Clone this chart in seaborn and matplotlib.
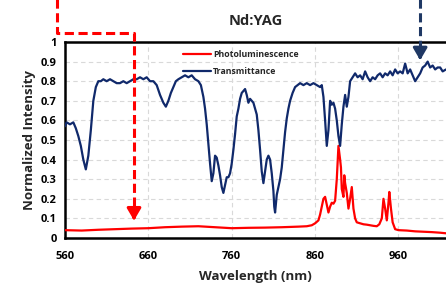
import numpy as np
import pandas as pd
import matplotlib
matplotlib.use("Agg")
import matplotlib.pyplot as plt
from matplotlib.ticker import MultipleLocator
import seaborn as sns

sns.set_theme(style="white")
plt.rcParams['font.family'] = ['Open Sans', 'DejaVu Sans']

# Transmittance
trans_wl = [560, 562, 566, 570, 573, 576, 579, 582, 585, 588, 591, 594, 597, 600, 603,
            606, 610, 614, 618, 622, 626, 630, 634, 638, 642, 646, 650, 654, 658, 662,
            666, 670, 674, 678, 681, 684, 687, 690, 693, 696, 700, 704, 708, 712, 716,
            720, 723, 726, 728, 730, 732, 734, 736, 738, 740, 742, 744, 746, 748, 750,
            752, 754, 756, 758, 760, 762, 764, 766, 768, 770, 772, 774, 776, 778, 780,
            782, 784, 786, 788, 790, 792, 794, 796, 798, 800, 802, 804, 806, 808, 810,
            811, 812, 814, 816, 818, 820, 822, 824, 826, 828, 830, 833, 836, 839, 842,
            846, 850, 854, 858, 862, 866, 868, 870, 872, 874, 876, 878, 880, 882, 884,
            886, 888, 890, 892, 894, 896, 898, 900, 902, 905, 908, 911, 914, 917, 920,
            923, 926, 929, 932, 935, 938, 941, 944, 947, 950, 953, 956, 959, 962, 965,
            968, 971, 974, 977, 980, 983, 986, 989, 992, 995, 998, 1001, 1004, 1007, 1010,
            1013, 1017]
trans = [0.57, 0.59, 0.58, 0.59, 0.56, 0.52, 0.47, 0.40, 0.35, 0.42, 0.55, 0.70, 0.77, 0.80, 0.80,
         0.81, 0.80, 0.81, 0.80, 0.79, 0.79, 0.80, 0.79, 0.80, 0.81, 0.81, 0.82, 0.81, 0.82, 0.80,
         0.80, 0.78, 0.73, 0.69, 0.67, 0.70, 0.74, 0.77, 0.80, 0.81, 0.82, 0.83, 0.82, 0.83, 0.81,
         0.80, 0.78, 0.72, 0.66, 0.58, 0.48, 0.38, 0.29, 0.33, 0.42, 0.41, 0.37, 0.32, 0.26, 0.23,
         0.27, 0.31, 0.31, 0.33, 0.38, 0.45, 0.53, 0.62, 0.66, 0.71, 0.74, 0.75, 0.76, 0.73, 0.69,
         0.71, 0.70, 0.69, 0.66, 0.63, 0.55, 0.45, 0.34, 0.28, 0.34, 0.40, 0.42, 0.40, 0.33, 0.24,
         0.16, 0.13, 0.22, 0.26, 0.30, 0.36, 0.45, 0.54, 0.61, 0.66, 0.70, 0.74, 0.77, 0.78, 0.79,
         0.78, 0.79, 0.78, 0.79, 0.78, 0.77, 0.78, 0.72, 0.60, 0.47, 0.55, 0.70, 0.68, 0.69, 0.66,
         0.60, 0.52, 0.47, 0.58, 0.67, 0.73, 0.67, 0.72, 0.80, 0.82, 0.84, 0.82, 0.83, 0.81, 0.85,
         0.82, 0.80, 0.82, 0.81, 0.83, 0.84, 0.82, 0.84, 0.83, 0.85, 0.83, 0.86, 0.84, 0.85, 0.84,
         0.89, 0.84, 0.86, 0.83, 0.80, 0.82, 0.84, 0.87, 0.88, 0.90, 0.87, 0.88, 0.86, 0.87, 0.87,
         0.85, 0.86]

# Photoluminescence
pl_wl = [560, 580, 600, 620, 640, 660, 680, 700, 720, 740, 760, 780, 800, 820, 840,
         850, 856, 860, 864, 866, 868, 870, 872, 874, 876, 878, 880, 882, 884, 886,
         888, 890, 891, 892, 894, 895, 896, 898, 900, 902, 904, 906, 908, 910, 914,
         918, 922, 926, 930, 934, 937, 940, 942, 944, 946, 948, 949, 951, 953, 956,
         960, 970, 980, 990, 1000, 1010, 1017]
pl = [0.040, 0.038, 0.042, 0.045, 0.048, 0.050, 0.055, 0.058, 0.060, 0.055, 0.050, 0.052, 0.053, 0.055, 0.058,
      0.060, 0.065, 0.075, 0.090, 0.120, 0.160, 0.200, 0.210, 0.170, 0.130, 0.160, 0.180, 0.175, 0.190, 0.300,
      0.470, 0.400, 0.360, 0.250, 0.210, 0.320, 0.280, 0.230, 0.150, 0.200, 0.260, 0.150, 0.100, 0.080, 0.075,
      0.070, 0.068, 0.065, 0.062, 0.060, 0.070, 0.100, 0.200, 0.150, 0.090, 0.180, 0.235, 0.150, 0.080, 0.045,
      0.040, 0.038, 0.034, 0.032, 0.030, 0.027, 0.024]

x_ticks = [560, 660, 760, 860, 960]
y_ticks = [0, 0.1, 0.2, 0.3, 0.4, 0.5, 0.6, 0.7, 0.8, 0.9, 1]
y_labels = ['0', '0.1', '0.2', '0.3', '0.4', '0.5', '0.6', '0.7', '0.8', '0.9', '1']

navy = '#10296B'
red = '#FF0000'

trans_df = pd.DataFrame({'wl': trans_wl, 'val': trans})
pl_df = pd.DataFrame({'wl': pl_wl, 'val': pl})

fig = plt.figure(figsize=(4.46, 2.83), dpi=100)
ax = fig.add_axes([0.1457, 0.159, 0.8543, 0.6926])

sns.lineplot(data=pl_df, x='wl', y='val', ax=ax, color=red, lw=1.6,
             label='Photoluminescence', zorder=3)
sns.lineplot(data=trans_df, x='wl', y='val', ax=ax, color=navy, lw=1.6,
             label='Transmittance', zorder=3)

ax.set_xlim(560, 1017)
ax.set_ylim(0, 1)
ax.set_xticks(x_ticks)
ax.set_xticklabels([str(t) for t in x_ticks], fontweight='bold', fontsize=8)
ax.set_yticks(y_ticks)
ax.set_yticklabels(y_labels, fontweight='bold', fontsize=8)
ax.xaxis.set_minor_locator(MultipleLocator(20))
ax.yaxis.set_minor_locator(MultipleLocator(0.02))
ax.tick_params(axis='x', which='major', direction='inout', length=6, width=1.5, pad=6)
ax.tick_params(axis='x', which='minor', direction='in', length=3, width=1.5)
ax.tick_params(axis='y', which='major', direction='inout', length=6, width=1.5, pad=3)
ax.tick_params(axis='y', which='minor', direction='inout', length=4, width=1)
ax.tick_params(colors='black')
ax.grid(True, which='major', color='#D9D9D9', ls=(0, (4, 3)), lw=0.8, zorder=0)

for s in ['left', 'bottom', 'top']:
    ax.spines[s].set_color('black')
    ax.spines[s].set_linewidth(1.8)
ax.spines['right'].set_visible(False)

ax.set_xlabel('Wavelength (nm)', fontweight='bold', fontsize=9.5, labelpad=6)
ax.set_ylabel('Normalized Intensity', fontweight='bold', fontsize=9.5, labelpad=3)
ax.set_title('Nd:YAG', fontweight='bold', fontsize=10.5, pad=12)

leg = ax.legend(loc='upper left', bbox_to_anchor=(0.29, 1.0), frameon=False,
                prop={'weight': 'bold', 'size': 6.3}, handlelength=3.2,
                handletextpad=0.2, labelspacing=0.9)

# dashed guide markers (annotations)
red_box_x = [550.4, 550.4, 642.8, 642.8]
red_box_y = [1.22, 1.046, 1.046, 0.12]
ax.plot(red_box_x, red_box_y, color=red, lw=2.2, ls=(0, (3, 1.5)),
        clip_on=False, zorder=4)
ax.annotate('', xy=(642.8, 0.075), xytext=(642.8, 0.13),
            arrowprops=dict(arrowstyle='-|>,head_length=0.6,head_width=0.35',
                            color=red, lw=2.2), annotation_clip=False)
ax.plot([986, 986], [1.22, 0.95], color='#1F3864', lw=2.2, ls=(0, (3, 1.5)),
        clip_on=False, zorder=4)
ax.annotate('', xy=(986, 0.893), xytext=(986, 0.95),
            arrowprops=dict(arrowstyle='-|>,head_length=0.6,head_width=0.35',
                            color='#1F3864', lw=2.2), annotation_clip=False)

fig.savefig('out.png', dpi=100)
